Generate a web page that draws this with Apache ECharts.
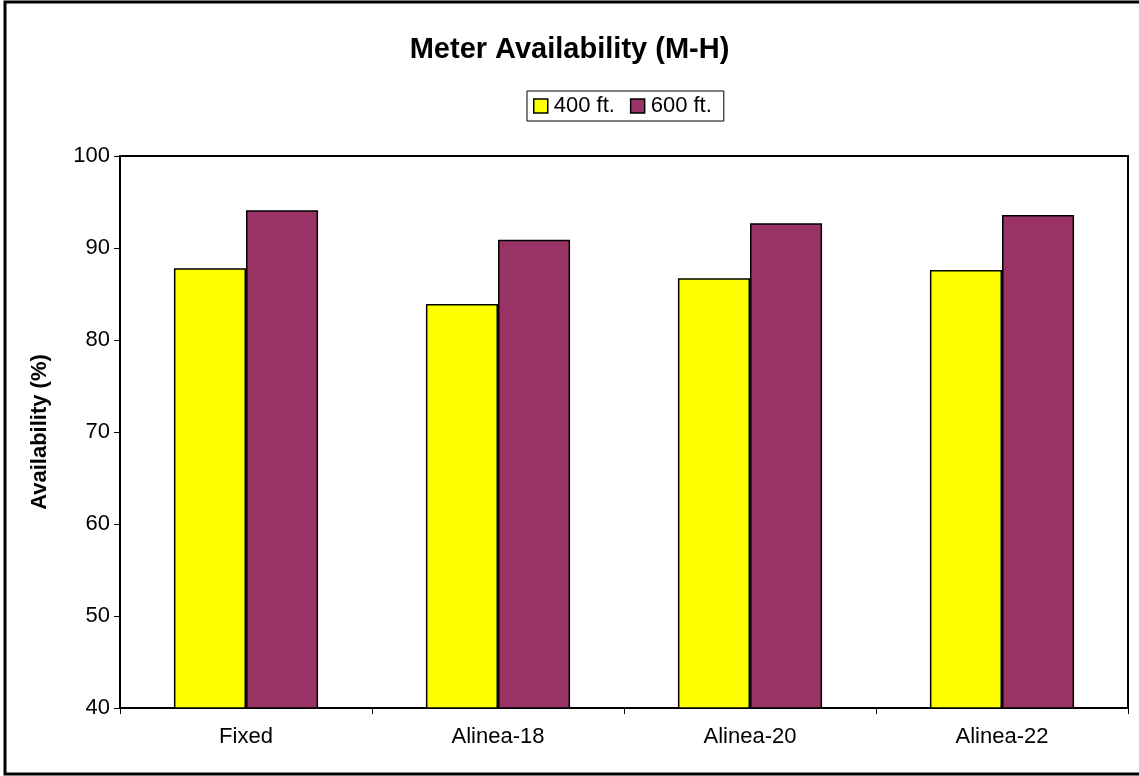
<!DOCTYPE html>
<html>
<head>
<meta charset="utf-8">
<script src="https://cdn.jsdelivr.net/npm/echarts@6/dist/echarts.min.js"></script>
<style>
html,body{margin:0;padding:0;background:#fff;}
#chart{width:1139px;height:776px;}
</style>
</head>
<body>
<div id="chart"></div>
<script>
const categories = ['Fixed', 'Alinea-18', 'Alinea-20', 'Alinea-22'];
const series400 = [87.8, 83.9, 86.7, 87.6];
const series600 = [94.1, 90.9, 92.7, 93.6];
const seriesNames = ['400 ft.', '600 ft.'];
const yTicks = [40, 50, 60, 70, 80, 90, 100];

const chart = echarts.init(document.getElementById('chart'), null, {renderer: 'canvas'});
const font = 'Arial, "Liberation Sans", sans-serif';
chart.setOption({
  animation: false,
  backgroundColor: '#ffffff',
  title: {
    text: 'Meter Availability (M-H)',
    left: 'center',
    top: 30,
    textStyle: {fontFamily: font, fontSize: 29, fontWeight: 'bold', color: '#000'}
  },
  legend: {
    data: seriesNames,
    left: 527,
    top: 91,
    padding: [4, 12, 4, 6],
    itemGap: 15,
    itemWidth: 14,
    itemHeight: 14,
    borderColor: '#000',
    borderWidth: 1,
    icon: 'rect',
    textStyle: {fontFamily: font, fontSize: 22, color: '#000', padding: [0, 0, 0, 1]},
    itemStyle: {borderColor: '#000', borderWidth: 1.5}
  },
  graphic: [{
    type: 'rect',
    shape: {x: 5, y: 2, width: 1150, height: 772},
    style: {fill: 'none', stroke: '#000', lineWidth: 3},
    silent: true
  }],
  grid: {
    left: 120, right: 11, top: 156, bottom: 68,
    show: true,
    borderColor: '#000',
    borderWidth: 2,
    backgroundColor: '#fff'
  },
  xAxis: {
    type: 'category',
    data: categories,
    axisLine: {show: true, lineStyle: {color: '#000', width: 2}},
    axisTick: {show: true, alignWithLabel: false, length: 6, lineStyle: {color: '#000', width: 1}},
    axisLabel: {fontFamily: font, fontSize: 22, color: '#000', margin: 18}
  },
  yAxis: {
    type: 'value',
    min: 40, max: 100, interval: 10,
    name: 'Availability (%)',
    nameLocation: 'middle',
    nameGap: 69,
    nameTextStyle: {fontFamily: font, fontSize: 22, fontWeight: 'bold', color: '#000'},
    axisLine: {show: true, lineStyle: {color: '#000', width: 2}},
    axisTick: {show: true, length: 6, lineStyle: {color: '#000', width: 1}},
    axisLabel: {fontFamily: font, fontSize: 22, color: '#000', margin: 10,
      formatter: function (v) { return yTicks.indexOf(v) >= 0 ? String(v) : ''; }},
    splitLine: {show: false}
  },
  series: [{
    name: seriesNames[0],
    type: 'bar',
    data: series400,
    barWidth: '28.6%',
    barGap: '0%',
    itemStyle: {color: '#ffff00', borderColor: '#000', borderWidth: 1.5}
  }, {
    name: seriesNames[1],
    type: 'bar',
    data: series600,
    barWidth: '28.6%',
    barGap: '0%',
    itemStyle: {color: '#993366', borderColor: '#000', borderWidth: 1.5}
  }]
});
</script>
</body>
</html>
